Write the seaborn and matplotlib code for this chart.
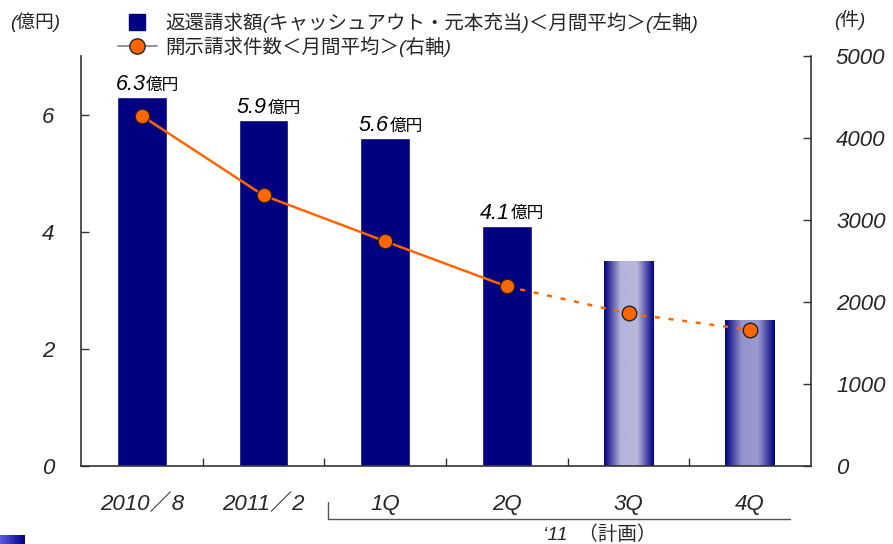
import numpy as np
import pandas as pd
import matplotlib
matplotlib.use("Agg")
import matplotlib.pyplot as plt
import seaborn as sns
from matplotlib.colors import LinearSegmentedColormap
from matplotlib.lines import Line2D
from matplotlib.transforms import blended_transform_factory

# --- data -------------------------------------------------------------
categories = ["2010／8", "2011／2", "1Q", "2Q", "3Q", "4Q"]
refund_amount = [6.3, 5.9, 5.6, 4.1, 3.5, 2.5]          # 億円 (left axis)
amount_labels = ["6.3", "5.9", "5.6", "4.1", None, None]
is_plan = [False, False, False, False, True, True]
disclosure_count = [4270, 3300, 2740, 2190, 1860, 1660]  # 件 (right axis)
left_ticks = [0, 2, 4, 6]
right_ticks = [0, 1000, 2000, 3000, 4000, 5000]

bar_label = "返還請求額(キャッシュアウト・元本充当)＜月間平均＞(左軸)"
line_label = "開示請求件数＜月間平均＞(右軸)"

NAVY = "#000080"
ORANGE = "#FF6600"

sns.set_theme(style="white")
plt.rcParams["font.family"] = ["Liberation Sans", "Noto Sans CJK JP", "DejaVu Sans"]
plt.rcParams["font.style"] = "italic"

fig = plt.figure(figsize=(8.93, 5.44), dpi=100)
ax = fig.add_axes([81 / 893, 1 - 466 / 544, 730 / 893, 410 / 544])

df = pd.DataFrame({"cat": categories, "amount": refund_amount})
sns.barplot(data=df, x="cat", y="amount", color=NAVY, saturation=1,
            width=0.41, ax=ax, zorder=2)

# planned quarters get a cylinder-like shading
shade_maps = {
    4: LinearSegmentedColormap.from_list("p3", [NAVY, "#b4b4dc", "#b8b8dc", NAVY]),
    5: LinearSegmentedColormap.from_list("p4", [NAVY, "#9494cc", "#9a9ad0", NAVY]),
}
grad = np.linspace(0, 1, 256)[None, :]
for i, patch in enumerate(ax.patches):
    if is_plan[i]:
        x0, w, h = patch.get_x(), patch.get_width(), patch.get_height()
        im = ax.imshow(grad, extent=[x0, x0 + w, 0, h], aspect="auto",
                       cmap=shade_maps[i], zorder=2.5, interpolation="bicubic")
        im.set_clip_path(patch)

# value labels on actual bars
for i, patch in enumerate(ax.patches):
    lab = amount_labels[i]
    if lab is None:
        continue
    cx = patch.get_x() + patch.get_width() / 2
    top = patch.get_height()
    ax.annotate(lab, (cx, top), xytext=(2.5, 1.5), textcoords="offset points",
                ha="right", va="bottom", fontsize=15.5, color="black",
                family=["Liberation Sans"], style="italic")
    ax.annotate("億円", (cx, top), xytext=(3, 2.5), textcoords="offset points",
                ha="left", va="bottom", fontsize=12, color="black",
                family=["Noto Sans CJK JP"])

ax.set_xlim(-0.5, 5.5)
ax.set_ylim(0, 7)
ax.set_yticks(left_ticks)
ax.set_yticklabels([str(t) for t in left_ticks])
ax.set_xlabel("")
ax.set_ylabel("")

for s in ["top", "right"]:
    ax.spines[s].set_visible(False)
for s in ["left", "bottom"]:
    ax.spines[s].set_color("#333333")
    ax.spines[s].set_linewidth(1.2)

ax.tick_params(axis="y", direction="in", length=6, width=1, color="#333333",
               labelsize=16, pad=19, left=True)
ax.tick_params(axis="x", which="major", length=0, labelsize=16, pad=20)
ax.set_xticks(np.arange(0.5, 5.5, 1.0), minor=True)
ax.tick_params(axis="x", which="minor", direction="in", length=6, width=1,
               color="#333333", bottom=True)
for t in ax.get_xticklabels() + ax.get_yticklabels():
    t.set_style("italic")

# right axis: disclosure requests
ax2 = ax.twinx()
pos = np.arange(len(categories))
ldf = pd.DataFrame({"x": pos, "count": disclosure_count, "plan": is_plan})
actual = ldf.iloc[:4]
planned = ldf.iloc[3:]
sns.lineplot(data=actual, x="x", y="count", color=ORANGE, lw=1.8, ax=ax2, zorder=3)
sns.lineplot(data=planned, x="x", y="count", color=ORANGE, lw=1.8, ax=ax2,
             zorder=3, dashes=False, linestyle=(0, (2, 3.5)))
sns.scatterplot(data=ldf, x="x", y="count", color=ORANGE, s=110,
                edgecolor="#222222", linewidth=1.0, ax=ax2, zorder=4)
ax2.set_ylim(0, 5000)
ax2.set_yticks(right_ticks)
ax2.set_yticklabels([str(t) for t in right_ticks])
ax2.set_xlabel("")
ax2.set_ylabel("")
for s in ["top", "left", "bottom"]:
    ax2.spines[s].set_visible(False)
ax2.spines["right"].set_color("#333333")
ax2.spines["right"].set_linewidth(1.2)
ax2.tick_params(axis="y", direction="in", length=6, width=1, color="#333333",
                labelsize=16, pad=18, right=True)
for t in ax2.get_yticklabels():
    t.set_style("italic")
ax.set_xlim(-0.5, 5.5)

# bracket under the 2011 quarters
tr = blended_transform_factory(ax.transData, ax.transAxes)
ax.add_line(Line2D([1.53, 1.53, 5.33], [-0.088, -0.129, -0.129], transform=tr,
                   color="#555555", lw=1.0, clip_on=False))
ax.text(3.76, -0.168, "‘11  （計画）", transform=tr, ha="center", va="center",
        fontsize=14, clip_on=False)

# axis unit labels
fig.text(10 / 893, 1 - 22 / 544, "(億円)", ha="left", va="center", fontsize=13.5)
fig.text(850 / 893, 1 - 20 / 544, "(件)", ha="center", va="center", fontsize=13.5)

# legend
handles = [
    Line2D([], [], marker="s", color="none", markerfacecolor=NAVY,
           markeredgecolor=NAVY, markersize=12),
    Line2D([], [], marker="o", color="#808080", lw=1.2, markerfacecolor=ORANGE,
           markeredgecolor="#222222", markersize=11),
]
fig.legend(handles, [bar_label, line_label], loc="upper left",
           bbox_to_anchor=(118 / 893, 1 - 12 / 544), frameon=False,
           handlelength=2.0, handletextpad=0.45,
           labelspacing=0.2, borderpad=0, borderaxespad=0,
           prop={"family": ["Liberation Sans", "Noto Sans CJK JP"], "size": 14})

# small slide corner mark
corner = fig.add_axes([0, 0, 25 / 893, 9 / 544])
corner.imshow(np.linspace(0, 1, 64)[None, :], aspect="auto",
              cmap=LinearSegmentedColormap.from_list("c", ["#5a5ae6", NAVY]))
corner.axis("off")

fig.savefig("out.png", dpi=100)
